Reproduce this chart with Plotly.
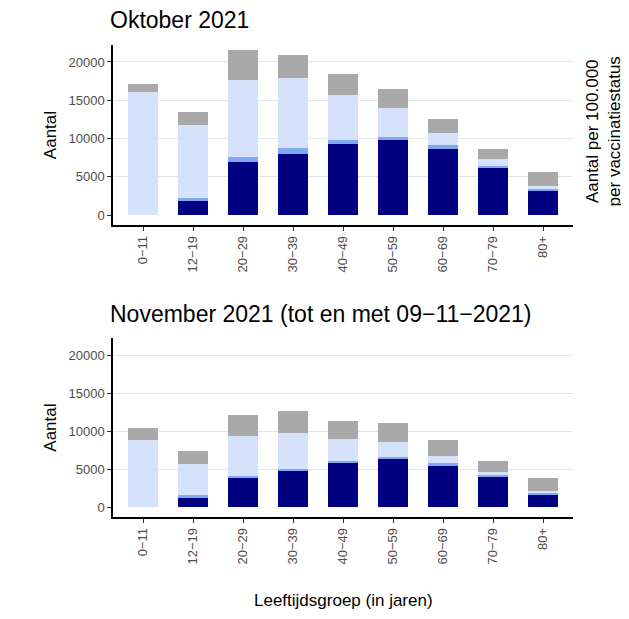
import plotly.graph_objects as go
from plotly.subplots import make_subplots

cats = ["0-11","12-19","20-29","30-39","40-49","50-59","60-69","70-79","80+"]
ticklabels = ["0\u221211","12\u221219","20\u221229","30\u221239","40\u221249","50\u221259","60\u221269","70\u221279","80+"]
yticks = [0, 5000, 10000, 15000, 20000]
yticklabels = ["0", "5000", "10000", "15000", "20000"]

okt_dark  = [0, 1830, 6930, 7970, 9280, 9800, 8630, 6140, 3140]
okt_med   = [0, 390, 650, 790, 520, 400, 520, 260, 260]
okt_light = [16080, 9540, 10060, 9140, 5880, 3790, 1570, 920, 390]
okt_gray  = [1020, 1700, 3920, 3000, 2750, 2480, 1830, 1310, 1830]

nov_dark  = [0, 1310, 3920, 4840, 5880, 6400, 5490, 4050, 1700]
nov_med   = [0, 260, 260, 260, 260, 260, 390, 260, 260]
nov_light = [8890, 4180, 5230, 4700, 2880, 1970, 920, 390, 130]
nov_gray  = [1570, 1700, 2740, 2880, 2350, 2480, 2090, 1440, 1700]

colors = ["#000080", "#7fa8f0", "#d6e2fb", "#a9a9a9"]

fig = make_subplots(rows=2, cols=1)
for row, series in [(1, [okt_dark, okt_med, okt_light, okt_gray]), (2, [nov_dark, nov_med, nov_light, nov_gray])]:
    for vals, c in zip(series, colors):
        fig.add_trace(go.Bar(x=cats, y=vals, marker_color=c, marker_line_width=0, width=0.6, showlegend=False), row=row, col=1)

fig.update_layout(barmode="stack", width=629, height=619, plot_bgcolor="white", paper_bgcolor="white",
                  margin=dict(l=105, r=64, t=0, b=0), font=dict(family="Liberation Sans", color="#333"))
ax = dict(showline=True, linecolor="black", linewidth=1.5, ticks="outside", ticklen=4, tickcolor="#333",
          tickfont=dict(size=13, color="#4d4d4d"))
fig.update_xaxes(**ax, tickangle=-90, tickvals=cats, ticktext=ticklabels, range=[-0.6, 8.6], showgrid=False)
fig.update_yaxes(**ax, tickvals=yticks, ticktext=yticklabels, showgrid=True, gridcolor="#e5e5e5",
                 title=dict(text="Aantal", font=dict(size=17, color="black"), standoff=8))
fig.update_layout(yaxis=dict(domain=[0.6495, 0.94], range=[-1300, 22200]),
                  yaxis2=dict(domain=[0.1776, 0.4667], range=[-1300, 22300]))

anns = [
    dict(text="Oktober 2021", y=1 - 12/619),
    dict(text="November 2021 (tot en met 09\u221211\u22122021)", y=1 - 306/619),
]
for a in anns:
    fig.add_annotation(text=a["text"], x=-0.01, y=a["y"], xref="paper", yref="paper", showarrow=False,
                       xanchor="left", yanchor="middle", font=dict(size=23, color="black"))
fig.add_annotation(text="Leeftijdsgroep (in jaren)", x=0.5, y=1 - 604/619, xref="paper", yref="paper",
                   showarrow=False, font=dict(size=17, color="black"))
fig.add_annotation(text="Aantal per 100.000<br>per vaccinatiestatus", x=1.115, y=1 - 46/619, xref="paper",
                   yref="paper", showarrow=False, textangle=-90,
                   font=dict(size=17, color="black"))
fig.write_html("out.html")
